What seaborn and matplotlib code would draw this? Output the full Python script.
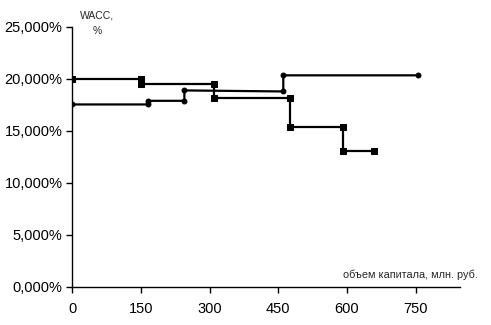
import matplotlib
matplotlib.use("Agg")
import matplotlib.pyplot as plt
import seaborn as sns
import pandas as pd
from matplotlib.ticker import FuncFormatter

# Step-line vertices
sq_x = [0, 150, 150, 310, 310, 475, 475, 592, 592, 658]
sq_y = [20.0, 20.0, 19.5, 19.5, 18.2, 18.2, 15.4, 15.4, 13.1, 13.1]
ci_x = [0, 166, 166, 245, 245, 461, 461, 755]
ci_y = [17.55, 17.55, 17.9, 17.9, 18.9, 18.8, 20.35, 20.35]

x_ticks = [0, 150, 300, 450, 600, 750]
y_ticks = [0, 5, 10, 15, 20, 25]

sns.set_theme(style="white")
plt.rcParams['font.family'] = ['Liberation Sans', 'DejaVu Sans']

fig = plt.figure(figsize=(4.91, 3.25), dpi=100)
ax = fig.add_axes([0.147, 0.117, 0.79, 0.80])

df_sq = pd.DataFrame({"x": sq_x, "y": sq_y})
df_ci = pd.DataFrame({"x": ci_x, "y": ci_y})
sns.lineplot(data=df_sq, x="x", y="y", sort=False, estimator=None, ax=ax,
             color="black", linewidth=1.6, marker="s", markersize=4.5,
             markeredgecolor="black")
sns.lineplot(data=df_ci, x="x", y="y", sort=False, estimator=None, ax=ax,
             color="black", linewidth=1.6, marker="o", markersize=3.5,
             markeredgecolor="black")

ax.set_xlim(0, 847)
ax.set_ylim(0, 25)
ax.set_xticks(x_ticks)
ax.set_yticks(y_ticks)
ax.yaxis.set_major_formatter(FuncFormatter(lambda v, p: f"{v:.3f}%".replace(".", ",")))
ax.set_xlabel("")
ax.set_ylabel("")
for s in ["top", "right"]:
    ax.spines[s].set_visible(False)
for s in ["left", "bottom"]:
    ax.spines[s].set_color("black")
    ax.spines[s].set_linewidth(1.0)
ax.tick_params(axis="both", which="major", direction="out", length=4, width=1,
               color="black", labelsize=10.5, labelcolor="black", pad=4)
ax.tick_params(axis="x", bottom=True, pad=7)
ax.tick_params(axis="y", left=True, pad=3)

fig.text(97 / 491, 1 - 23 / 325, "WACC,\n%", ha="center", va="center",
         fontsize=7.5, linespacing=1.7)
fig.text(478 / 491, 1 - 275 / 325, "объем капитала, млн. руб.", ha="right",
         va="center", fontsize=7.8)

fig.savefig("out.png", dpi=100)
